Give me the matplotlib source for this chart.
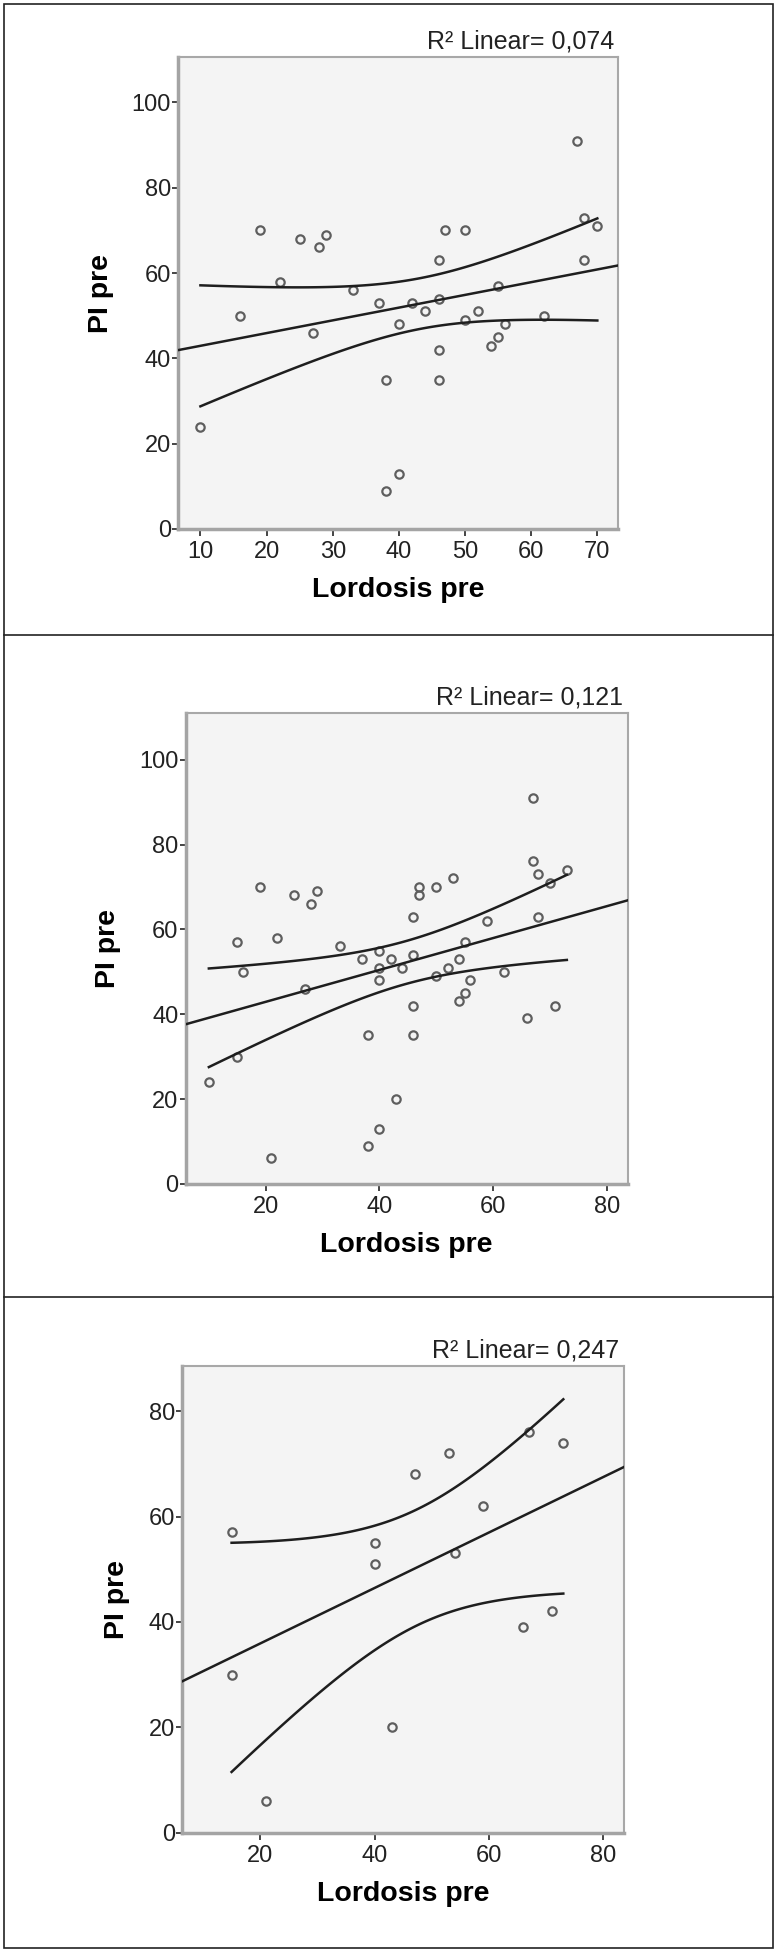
import numpy as np
import matplotlib
matplotlib.use('Agg')
import matplotlib.pyplot as plt
from matplotlib.patches import Rectangle
from matplotlib.lines import Line2D

plt.rcParams['font.family'] = ['Liberation Sans', 'DejaVu Sans']

# panel 1
lord_1 = [10, 16, 19, 22, 25, 27, 28, 29, 33, 37, 38, 38, 40, 40, 42, 44, 46, 46, 46, 46,
          47, 50, 50, 52, 54, 55, 55, 56, 62, 67, 68, 68, 70]
pi_1 = [24, 50, 70, 58, 68, 46, 66, 69, 56, 53, 35, 9, 48, 13, 53, 51, 63, 54, 42, 35,
        70, 70, 49, 51, 43, 57, 45, 48, 50, 91, 73, 63, 71]

# panel 2
lord_2 = [10, 15, 15, 16, 19, 21, 22, 25, 27, 28, 29, 33, 37, 38, 38, 40, 40, 40, 40, 42,
          43, 44, 46, 46, 46, 46, 47, 47, 50, 50, 52, 53, 54, 54, 55, 55, 56, 59, 62, 66,
          67, 67, 68, 68, 70, 71, 73]
pi_2 = [24, 57, 30, 50, 70, 6, 58, 68, 46, 66, 69, 56, 53, 35, 9, 55, 51, 48, 13, 53,
        20, 51, 63, 54, 42, 35, 70, 68, 70, 49, 51, 72, 53, 43, 57, 45, 48, 62, 50, 39,
        76, 91, 73, 63, 71, 42, 74]

# panel 3
lord_3 = [15, 15, 21, 40, 40, 43, 47, 53, 54, 59, 66, 67, 71, 73]
pi_3 = [57, 30, 6, 55, 51, 20, 68, 72, 53, 62, 39, 76, 42, 74]

r2_labels = ['0,074', '0,121', '0,247']
# 95% t critical values for df = n-2 (31, 45, 12)
t_crit = [2.040, 2.014, 2.179]

panels = [(lord_1, pi_1), (lord_2, pi_2), (lord_3, pi_3)]
xlims = [(6.6, 73.2), (5.9, 83.7), (6.3, 83.6)]
ylims = [(0, 110.6), (0, 110.9), (0, 88.6)]
xticks = [[10, 20, 30, 40, 50, 60, 70], [20, 40, 60, 80], [20, 40, 60, 80]]
yticks = [[0, 20, 40, 60, 80, 100], [0, 20, 40, 60, 80, 100], [0, 20, 40, 60, 80]]
# axes boxes in figure fractions [left, bottom, width, height]
boxes = [[0.229, 0.729, 0.567, 0.2417],
         [0.2388, 0.3935, 0.569, 0.241],
         [0.234, 0.0612, 0.569, 0.239]]

fig = plt.figure(figsize=(7.77, 19.52), dpi=100)

for i, (xs, ys) in enumerate(panels):
    x = np.array(xs, dtype=float)
    y = np.array(ys, dtype=float)
    ax = fig.add_axes(boxes[i])
    ax.set_facecolor('#f4f4f4')

    ax.plot(x, y, 'o', ms=6, mfc='none', mec='#5e5e5e', mew=1.6, zorder=3)

    # OLS fit and 95% CI of mean
    n = len(x)
    b, a = np.polyfit(x, y, 1)
    yhat = a + b * x
    s = np.sqrt(np.sum((y - yhat) ** 2) / (n - 2))
    sxx = np.sum((x - x.mean()) ** 2)

    xl = np.array(xlims[i])
    ax.plot(xl, a + b * xl, color='#1e1e1e', lw=1.8, zorder=4)
    xc = np.linspace(x.min(), x.max(), 100)
    se = s * np.sqrt(1 / n + (xc - x.mean()) ** 2 / sxx)
    ax.plot(xc, a + b * xc + t_crit[i] * se, color='#1e1e1e', lw=1.8, zorder=4)
    ax.plot(xc, a + b * xc - t_crit[i] * se, color='#1e1e1e', lw=1.8, zorder=4)

    ax.set_xlim(xlims[i])
    ax.set_ylim(ylims[i])
    ax.set_xticks(xticks[i])
    ax.set_yticks(yticks[i])
    ax.tick_params(labelsize=17, labelcolor='#222222')
    ax.tick_params(axis='y', length=4, width=1.4, color='#444444', pad=1)
    ax.tick_params(axis='x', length=5, width=1.4, color='#444444', pad=4)
    for sp in ['left', 'bottom']:
        ax.spines[sp].set_color('#a4a4a4')
        ax.spines[sp].set_linewidth(2.5)
    for sp in ['top', 'right']:
        ax.spines[sp].set_color('#a8a8a8')
        ax.spines[sp].set_linewidth(1.5)

    ax.set_xlabel('Lordosis pre', fontsize=20.5, fontweight='bold', labelpad=10)
    ax.set_ylabel('PI pre', fontsize=20.5, fontweight='bold', labelpad=13)
    ax.text(0.99, 1.018, 'R² Linear= ' + r2_labels[i], transform=ax.transAxes,
            ha='right', va='baseline', fontsize=18, color='#222222')

# panel frames
fig.patches.append(Rectangle((3 / 624, 3 / 1568), 618 / 624, 1562 / 1568,
                             transform=fig.transFigure, fill=False,
                             edgecolor='#222222', lw=1.2))
for yy in [510, 1042]:
    fig.lines.append(Line2D([3 / 624, 621 / 624], [1 - yy / 1568] * 2,
                            transform=fig.transFigure, color='#222222', lw=1.2))

fig.savefig('out.png', dpi=100)
